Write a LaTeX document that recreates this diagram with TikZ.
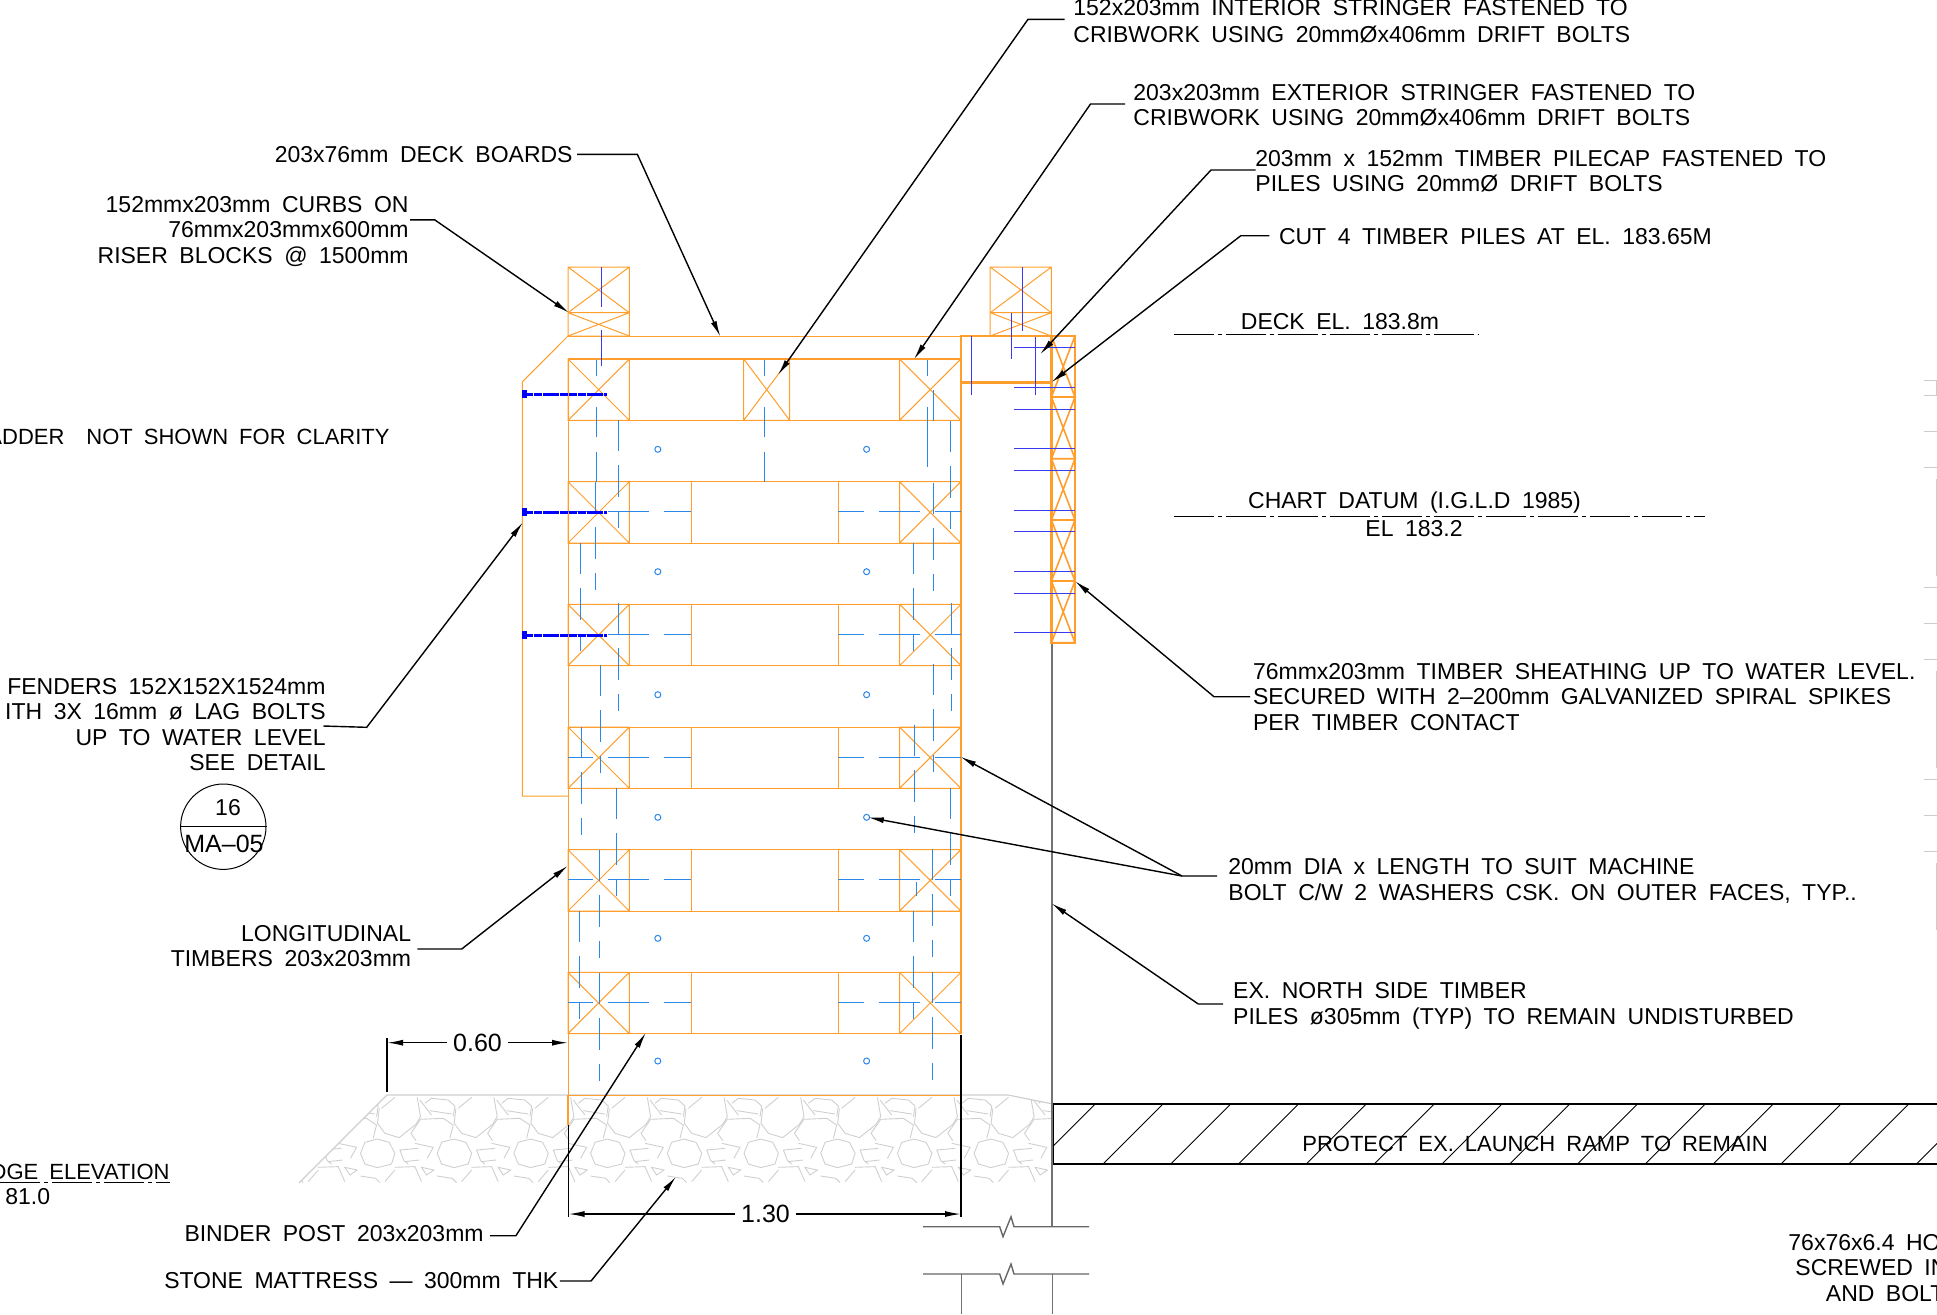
\documentclass[tikz,border=0pt]{standalone}
\usepackage{fontspec}
\setmainfont[WordSpace=1.8]{Liberation Sans}
\usetikzlibrary{arrows.meta}
\definecolor{wood}{HTML}{FF9E2C}
\definecolor{hidden}{HTML}{2C88E8}
\definecolor{bolt}{HTML}{3A3AF0}
\definecolor{stone}{HTML}{CFCFCF}

\begin{document}
\begin{tikzpicture}[x=.5pt,y=-.5pt]
    \tikzstyle{timber}=[draw=wood,line width=.5pt]
    \tikzstyle{heavy}=[draw=wood,line width=1.2pt]
    \tikzstyle{hid}=[draw=hidden,line width=.5pt]
    \tikzstyle{hidd}=[hid,dash pattern=on 15.7pt off 7pt]
    \tikzstyle{spike}=[draw=bolt,line width=.45pt]
    \tikzstyle{lag}=[draw=blue,line width=1.5pt,dash pattern=on 4pt off .4pt]
    \tikzstyle{leader}=[draw=black,line width=.7pt,-{Latex[length=8pt,width=3pt]}]
    \tikzstyle{level}=[draw=black,line width=.45pt,dash pattern=on 20pt off 2pt on 2pt off 2pt]
    \tikzstyle{note}=[inner sep=0pt,font=\fontsize{11.5}{12.7}\selectfont]
    \tikzstyle{notel}=[note,anchor=west,align=left]
    \tikzstyle{noter}=[note,anchor=east,align=right]
    \tikzstyle{wider}=[font=\fontsize{11.5}{13.3}\selectfont]
    \tikzstyle{dimen}=[inner sep=3pt,fill=white,font=\fontsize{12.5}{14}\selectfont]

    \useasboundingbox (0,0) rectangle (1937,1314);

%stone mattress
    \begin{scope}
    \clip (299,1183) -- (387,1095) -- (1008,1095) -- (1053,1104) -- (1053,1183) -- cycle;
    \foreach \k in {-5,...,5}{
        \begin{scope}[shift={(607.3+\k*76.7,1153.3)},draw=stone,line width=.45pt]
        \draw (0,-14.3) -- (12,-11) -- (17.7,0) -- (14.3,10.7) -- (0,14.3) -- (-12.3,10.7) -- (-16.7,0) -- (-12.3,-11) -- cycle;
        \draw (2,-45) -- (.3,-30) -- (7.7,-20) -- (22,-15.7) -- (38.7,-29) -- (43.3,-36.7) -- (40,-56);
        \draw (17.7,-56) -- (4.3,-45);
        \draw (38.7,-12.7) -- (33.7,-20) -- (43.3,-34) -- (66,-35) -- (76,-28.3) -- (72.7,-15);
        \draw (47.7,-50) -- (54.3,-55) -- (71,-53.3) -- (77.7,-47.3) -- (76,-36.7);
        \draw (52.7,-42.7) -- (74.3,-39.3);
        \draw (42.7,-53.3) -- (54.3,-38.3);
        \draw (41,-5) -- (22.7,-3.3) -- (26.7,7.3) -- (31,10.7);
        \draw (27.7,8.3) -- (42,6.7);
        \draw (37.7,-10) -- (56,-6) -- (50,5);
        \draw (17.7,14) -- (37.7,13.3) -- (44.3,28.3);
        \draw (7.7,28.3) -- (17.7,16.7);
        \draw (44.3,14) -- (56.7,16.7) -- (49.3,21.7) -- cycle;
        \draw (60,22.7) -- (75,25) -- (79.3,29.3);
        \end{scope}
    }
    \end{scope}
    \draw[stone,line width=.6pt] (299,1183) -- (387,1095) -- (1008,1095) -- (1053,1104);

%right side lines and ramp
    \draw[black!55,line width=.55pt] (1052,643) -- (1052,1227);
    \draw[black!55,line width=.5pt] (961,1274) -- (961,1314) (1052,1274) -- (1052,1314);
    \draw[black!60,line width=.7pt] (923,1226.7) -- (999.7,1226.7) -- (1003,1236.7) -- (1011,1216.7) -- (1014,1226.7) -- (1089,1226.7);
    \draw[black!60,line width=.7pt] (923,1274) -- (999.7,1274) -- (1003,1284) -- (1011,1264) -- (1014,1274) -- (1089,1274);
    \begin{scope}
    \clip (1053.7,1104) rectangle (1937,1164);
    \foreach \k in {-1,...,12}
        \draw[black,line width=.45pt] (1102.9+\k*67.8,1164) -- ++(60,-60);
    \end{scope}
    \draw[black,line width=.6pt] (1937,1104) -- (1053.7,1104) -- (1053.7,1164) -- (1937,1164);

%crib timbers
    \foreach \y in {359,420.3,481.7,543,604.3,665.7,727,788.3,849.7,911,972.3,1033.7,1095}
        \draw[timber] (568,\y) -- (961,\y);
    \foreach \y in {481.7,604.3,727,849.7,972.3}{
        \draw[timber] (691,\y) -- ++(0,61.3) (838.2,\y) -- ++(0,61.3);
    }
    \foreach \x/\y/\w in {568/359/61.3,743.7/359/46,899.6/359/61.3,
        568/481.7/61.3,899.6/481.7/61.3,568/604.3/61.3,899.6/604.3/61.3,
        568/727/61.3,899.6/727/61.3,568/849.7/61.3,899.6/849.7/61.3,
        568/972.3/61.3,899.6/972.3/61.3}{
        \draw[timber] (\x,\y) rectangle ++(\w,61.3) (\x,\y) -- ++(\w,61.3) (\x+\w,\y) -- ++(-\w,61.3);
    }
    \draw[timber] (568,359) -- (568,1095);
    \draw[heavy] (568,1095) -- (568,1125);
    \draw[heavy] (961,382) -- (961,1034);
    \draw[heavy] (568,359) -- (961,359);
    \draw[black,line width=.7pt] (568.5,1125) -- (568.5,1217) (961,1035) -- (961,1217);

%deck, curbs, fender
    \draw[timber] (568,267) rectangle (629.3,336) (568,267) -- (629.3,312.7) (629.3,267) -- (568,312.7);
    \draw[timber] (568,312.7) -- (629.3,312.7) (568,312.7) -- (629.3,336) (629.3,312.7) -- (568,336);
    \draw[timber] (990.2,267) -- (1051.4,267) -- (1051.4,336) (990.2,336) -- (990.2,267) (990.2,267) -- (1051.4,312.7) (1051.4,267) -- (990.2,312.7);
    \draw[timber] (990.2,312.7) -- (1051.4,312.7) (990.2,312.7) -- (1051.4,336) (1051.4,312.7) -- (990.2,336);
    \draw[timber] (568,336) -- (990,336);
    \draw[timber] (568,336) -- (522.4,381.7) -- (522.4,796) -- (568,796);
    \draw[heavy] (960.8,336) rectangle (1051.4,382.3);
    \draw[heavy] (1051.4,336) rectangle (1075,642.7);
    \foreach \y/\z in {336/397,397/458.7,458.7/520,520/581,581/642.7}{
        \draw[heavy,line width=.8pt] (1051.4,\y) -- (1075,\z) (1075,\y) -- (1051.4,\z) (1051.4,\z) -- (1075,\z);
    }

%bolts in curbs, cap and sheathing
    \draw[spike] (601.2,267) -- (601.2,307) (601.2,330) -- (601.2,366);
    \draw[spike] (971.4,336) -- (971.4,395) (1011.8,312.7) -- (1011.8,359.3) (1022.9,267) -- (1022.9,331) (1035.5,336.7) -- (1035.5,395);
    \foreach \y in {347.3,387,409,448.3,470.3,510,531.7,571.3,593,632.7}
        \draw[spike] (1013.9,\y) -- (1075,\y);

%hidden drift bolts and pins
    \foreach \x/\y in {618.4/420,595.5/482,580/543,618.4/603,600.7/665,581.4/727,616.4/788,599/850,579.6/911,599/972.7,
        950.6/421,933/482.7,913.9/543,951.4/603,933.6/664,914.3/725,950.7/788,932/849,913.2/911,932/971.7}
        \draw[hidd] (\x,\y) -- ++(0,108);
    \foreach \x in {596.3,764.9,927.3}
        \draw[hid] (\x,360) -- (\x,376);
    \draw[hid] (596.3,406.7) -- (596.3,437) (596.3,452) -- (596.3,481.7);
    \draw[hid] (764.9,406.7) -- (764.9,437) (764.9,452) -- (764.9,481.7);
    \draw[hid] (927.3,406.7) -- (927.3,466.7) (933,390) -- (933,421) (916.8,882) -- (916.8,896);
    \foreach \y in {511.7,634.3,757.3,879.7,1002.7}{
        \draw[hid] (568,\y) -- (593,\y) (608,\y) -- (649.3,\y) (664.3,\y) -- (691,\y);
        \draw[hid] (838.2,\y) -- (864,\y) (878.6,\y) -- (920,\y) (934.6,\y) -- (961,\y);
    }
    \foreach \y in {449.3,571.7,694.7,817.3,938.3,1061}{
        \draw[hid] (657.8,\y) circle (1.5pt) (866.6,\y) circle (1.5pt);
    }
    \foreach \y in {394,512,635.3}{
        \draw[lag] (525,\y) -- (606.5,\y);
        \fill[blue] (522.4,\y-4) rectangle ++(5,8);
    }

%edge of next sheet
    \foreach \y in {380,395.5,431.8,467.8,587.3,623.3,659.2,779.6,815.5,851.4}
        \draw[black!20,line width=.5pt] (1924,\y) -- (1937,\y);
    \draw[black!20,line width=.5pt] (1936.5,380) -- (1936.5,395.5) (1936.5,479) -- (1936.5,576) (1936.5,670.6) -- (1936.5,767.8) (1936.5,863) -- (1936.5,930);

%labels
    \node[notel,wider] (Istr) at (1073,21.5) {152x203mm INTERIOR STRINGER FASTENED TO\\CRIBWORK USING 20mmØx406mm DRIFT BOLTS};
    \node[notel] (Estr) at (1133,105) {203x203mm EXTERIOR STRINGER FASTENED TO\\CRIBWORK USING 20mmØx406mm DRIFT BOLTS};
    \node[notel] (Cap) at (1255,171) {203mm x 152mm TIMBER PILECAP FASTENED TO\\PILES USING 20mmØ DRIFT BOLTS};
    \node[notel] (Cut) at (1278.6,236.5) {CUT 4 TIMBER PILES AT EL. 183.65M};
    \node[noter] (Deck) at (573,154.4) {203x76mm DECK BOARDS};
    \node[noter] (Curb) at (409,231.5) {152mmx203mm CURBS ON\\76mmx203mmx600mm\\RISER BLOCKS @ 1500mm};
    \node[noter,font=\fontsize{11}{12.7}\selectfont] (Ladder) at (390,436.5) {ADDER\ \ NOT SHOWN FOR CLARITY};
    \node[noter] (Fender) at (326,724.5) {FENDERS 152X152X1524mm\\ITH 3X 16mm ø LAG BOLTS\\UP TO WATER LEVEL\\SEE DETAIL};
    \node[noter] (Long) at (411.5,946) {LONGITUDINAL\\TIMBERS 203x203mm};
    \node[noter] (Binder) at (484,1234) {BINDER POST 203x203mm};
    \node[noter] (Mat) at (558.7,1281) {STONE MATTRESS --- 300mm THK};
    \node[notel] (Sheath) at (1252.6,696.7) {76mmx203mm TIMBER SHEATHING UP TO WATER LEVEL.\\SECURED WITH 2--200mm GALVANIZED SPIRAL SPIKES\\PER TIMBER CONTACT};
    \node[notel,wider] (Mach) at (1228,881) {20mm DIA x LENGTH TO SUIT MACHINE\\BOLT C/W 2 WASHERS CSK. ON OUTER FACES, TYP..};
    \node[notel,wider] (North) at (1232.8,1006) {EX. NORTH SIDE TIMBER\\PILES ø305mm (TYP) TO REMAIN UNDISTURBED};
    \node[note] (DeckEl) at (1340,321.5) {DECK EL. 183.8m};
    \node[note] (Chart) at (1414.5,503) {CHART DATUM (I.G.L.D 1985)};
    \node[note] (ChartEl) at (1414,529) {EL 183.2};
    \node[note,font=\fontsize{11}{12.7}\selectfont] (Ramp) at (1535,1144.3) {PROTECT EX. LAUNCH RAMP TO REMAIN};
    \node[noter,font=\fontsize{11}{14}\selectfont] (Edge) at (170,1172.3) {DGE ELEVATION};
    \node[notel] (EdgeEl) at (5,1197) {81.0};
    \node[notel] (Tube) at (1788,1242.7) {76x76x6.4 HO};
    \node[notel] (Screw) at (1795,1267.7) {SCREWED INT};
    \node[notel] (Andb) at (1825.5,1293.3) {AND BOLT};

%detail bubble
    \node[circle,draw=black,line width=.5pt,minimum size=42.7pt,inner sep=0pt] (Bubble) at (223.3,826.7) {};
    \draw[black,line width=.5pt] (Bubble.west) -- (Bubble.east);
    \node[note] (Bnum) at (228,808) {16};
    \node[note,font=\fontsize{12.5}{14}\selectfont] (Bsheet) at (224,844) {MA--05};

%levels
    \coordinate (dl1) at (1173.5,334.8); \coordinate (dl2) at (1478.7,334.8);
    \coordinate (cl1) at (1173.5,516.4); \coordinate (cl2) at (1704.7,516.4);
    \coordinate (el1) at (0,1182.3); \coordinate (el2) at (170,1182.3);
    \draw[level] (dl1) -- (dl2);
    \draw[level] (cl1) -- (cl2);
    \draw[level] (el1) -- (el2);

%leaders
    \coordinate (a1) at (1064.7,19.3); \coordinate (b1) at (1028,19.3); \coordinate (t1) at (778,375);
    \coordinate (a2) at (1125,104); \coordinate (b2) at (1090.5,104); \coordinate (t2) at (913.9,359.3);
    \coordinate (a3) at (1255.6,170); \coordinate (b3) at (1211,170); \coordinate (t3) at (1040,354.3);
    \coordinate (a4) at (1269.3,235.7); \coordinate (b4) at (1240.8,235.7); \coordinate (t4) at (1051.4,382.3);
    \coordinate (a5) at (577,154.4); \coordinate (b5) at (637.4,154.4); \coordinate (t5) at (720.4,336.7);
    \coordinate (a6) at (410,219.9); \coordinate (b6) at (434.8,219.9); \coordinate (t6) at (569,312.7);
    \coordinate (a7) at (323.3,726); \coordinate (b7) at (366.7,727.3); \coordinate (t7) at (522.9,522.3);
    \coordinate (a8) at (417.3,949); \coordinate (b8) at (461.7,949); \coordinate (t8) at (567.9,865.7);
    \coordinate (a9) at (490,1235.7); \coordinate (b9) at (515.9,1235.7); \coordinate (t9) at (645.9,1032.7);
    \coordinate (a10) at (559.8,1281); \coordinate (b10) at (591,1281); \coordinate (t10) at (676,1176.7);
    \coordinate (a11) at (1250,696.7); \coordinate (b11) at (1214,696.7); \coordinate (t11) at (1075,581);
    \coordinate (a12) at (1217,876); \coordinate (b12) at (1182,876); \coordinate (t12) at (960.4,756.7); \coordinate (t13) at (867.9,817.3);
    \coordinate (a14) at (1223,1004); \coordinate (b14) at (1198.3,1004); \coordinate (t14) at (1051.4,903.3);
    \foreach \i in {1,...,12,14}
        \draw[leader] (a\i) -- (b\i) -- (t\i);
    \draw[leader] (b12) -- (t13);

%dimensions
    \coordinate (d1) at (387,1042.7); \coordinate (d2) at (568,1042.7);
    \coordinate (d3) at (568.5,1214); \coordinate (d4) at (961,1214);
    \coordinate (dt1) at (387,1038); \coordinate (dt2) at (387,1091.7);
    \draw[black,line width=.7pt] (dt1) -- (dt2);
    \node[dimen] (D60) at (477.5,1042.7) {0.60};
    \node[dimen] (D130) at (765.5,1214) {1.30};
    \draw[leader] (D60) -- (d1);
    \draw[leader] (D60) -- (d2);
    \draw[leader] (D130) -- (d3);
    \draw[leader] (D130) -- (d4);
\end{tikzpicture}
\end{document}
